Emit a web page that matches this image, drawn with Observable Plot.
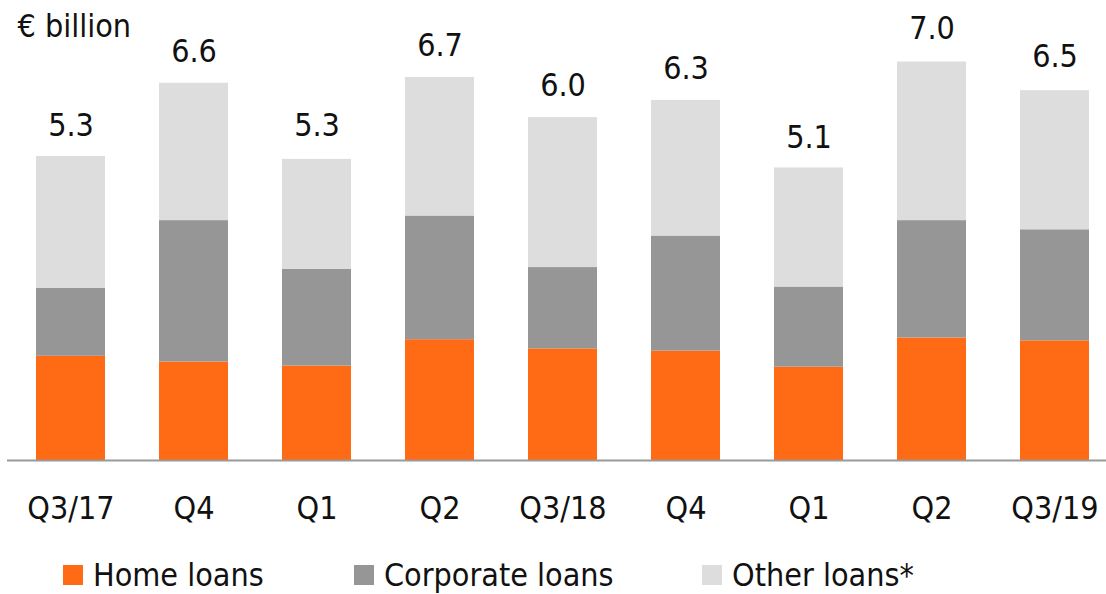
<!DOCTYPE html>
<html>
<head>
<meta charset="utf-8">
<script src="https://cdn.jsdelivr.net/npm/d3@7"></script>
<script src="https://cdn.jsdelivr.net/npm/@observablehq/plot@0.6"></script>
<style>
  html, body { margin: 0; padding: 0; background: #fff; }
  #wrap { position: relative; width: 1106px; height: 594px;
          font-family: "DejaVu Sans Condensed", "DejaVu Sans", sans-serif; font-stretch: condensed; color: #111; }
  #chart { position: absolute; left: 0; top: 0; }
  .item { position: absolute; top: 560px; height: 30px; line-height: 30px; display: flex; align-items: center; font-size: 32px; white-space: nowrap; }
  .sw { width: 20px; height: 20px; margin-right: 10px; flex: none; }
</style>
</head>
<body>
<div id="wrap">
  <div id="chart"></div>
  <div id="legend"></div>
</div>
<script>
const periods = ["Q3 2017","Q4 2017","Q1 2018","Q2 2018","Q3 2018","Q4 2018","Q1 2019","Q2 2019","Q3 2019"];
const tickLabels = ["Q3/17","Q4","Q1","Q2","Q3/18","Q4","Q1","Q2","Q3/19"];
const series = ["Home loans","Corporate loans","Other loans*"];
const colors = ["#FF6A14","#969696","#DDDDDD"];
const homeLoans      = [1.82, 1.72, 1.65, 2.11, 1.95, 1.91, 1.63, 2.14, 2.09];
const corporateLoans = [1.19, 2.47, 1.69, 2.16, 1.42, 2.01, 1.40, 2.05, 1.94];
const otherLoans     = [2.30, 2.40, 1.92, 2.42, 2.62, 2.37, 2.08, 2.77, 2.43];
const totals         = [5.3, 6.6, 5.3, 6.7, 6.0, 6.3, 5.1, 7.0, 6.5];
const title = "€ billion";

const seriesValues = [homeLoans, corporateLoans, otherLoans];
const rows = [];
periods.forEach((p, i) => {
  series.forEach((s, k) => rows.push({i, period: p, series: s, value: seriesValues[k][i]}));
});
const totalRows = totals.map((t, i) => ({i, total: t}));

const fontFamily = '"DejaVu Sans Condensed", "DejaVu Sans", sans-serif';

const chart = Plot.plot({
  width: 1106,
  height: 550,
  marginLeft: 7,
  marginRight: 0,
  marginTop: 2,
  marginBottom: 90,
  style: {fontFamily, fontSize: "32px", fontStretch: "condensed", color: "#111", background: "transparent"},
  x: {domain: d3.range(periods.length), paddingInner: 0.4416, paddingOuter: 0.168, align: 0.634},
  y: {domain: [0, 8], axis: null},
  color: {domain: series, range: colors},
  marks: [
    Plot.barY(rows, {x: "i", y: "value", fill: "series", order: series}),
    Plot.ruleY([0], {stroke: "#999999", strokeWidth: 2}),
    Plot.text(totalRows, {x: "i", y: "total", text: d => d.total.toFixed(1), dy: -21, lineAnchor: "bottom", fontSize: 32}),
    Plot.axisX({tickSize: 0, tickPadding: 36, tickFormat: i => tickLabels[i], fontSize: 32, label: null}),
    Plot.text([title], {frameAnchor: "top-left", dx: 10, dy: 34, lineAnchor: "bottom", textAnchor: "start", fontSize: 32})
  ]
});
document.getElementById("chart").appendChild(chart);

const legendX = [63, 354, 702];
const legend = document.getElementById("legend");
series.forEach((s, k) => {
  const item = document.createElement("div");
  item.className = "item";
  item.style.left = legendX[k] + "px";
  const sw = document.createElement("span");
  sw.className = "sw";
  sw.style.background = colors[k];
  const label = document.createElement("span");
  label.textContent = s;
  item.appendChild(sw);
  item.appendChild(label);
  legend.appendChild(item);
});
</script>
</body>
</html>
